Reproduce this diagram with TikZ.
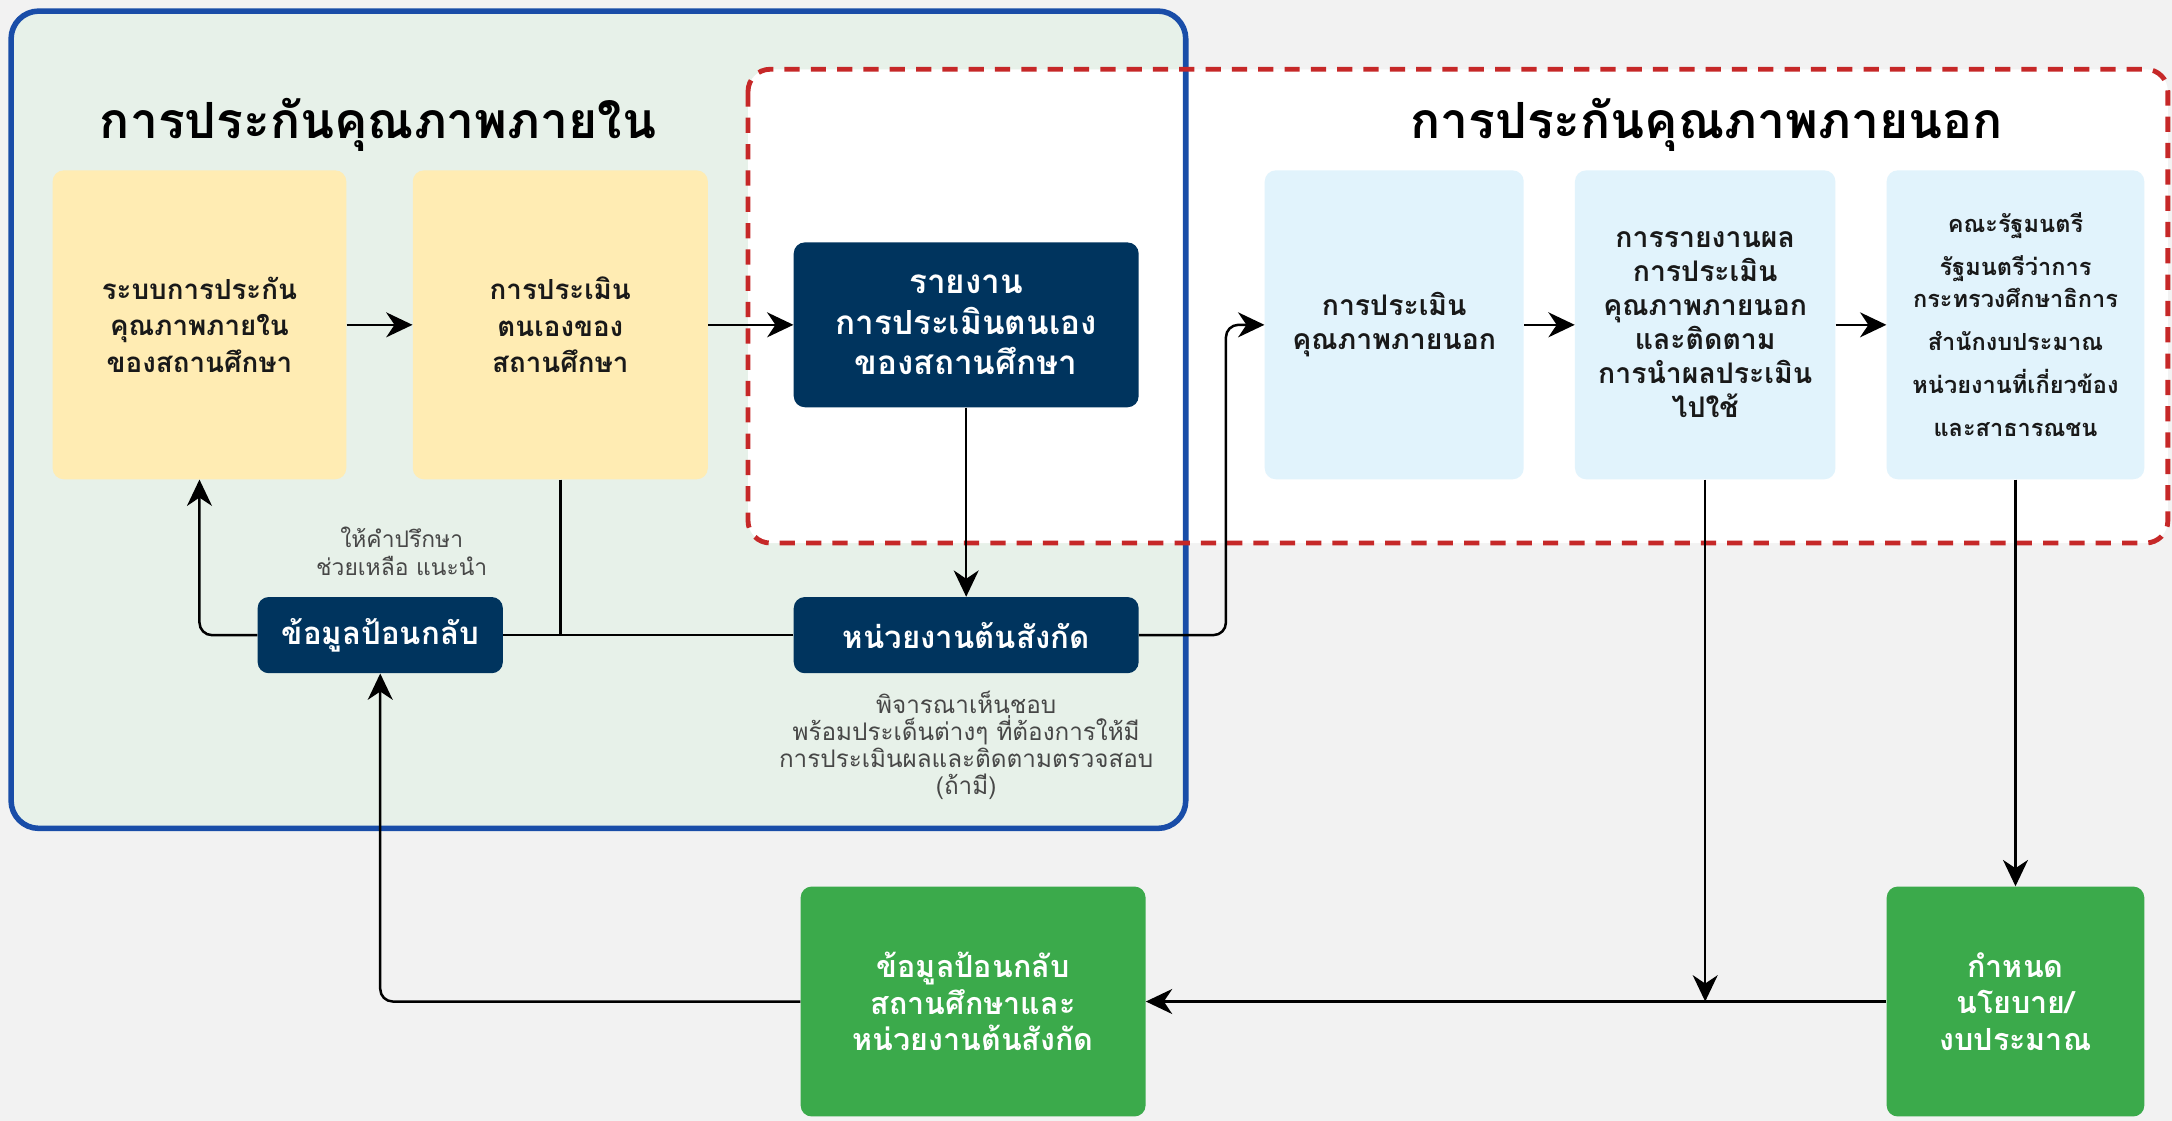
\documentclass[tikz,border=0pt]{standalone}
\usepackage{fontspec}
\setmainfont[Script=Thai]{Loma}
\usetikzlibrary{arrows.meta}
\definecolor{bgc}{RGB}{242,242,242}
\definecolor{greenfill}{RGB}{231,241,233}
\definecolor{bluebord}{RGB}{25,77,168}
\definecolor{redd}{RGB}{198,40,40}
\definecolor{yel}{RGB}{255,236,179}
\definecolor{navy}{RGB}{0,52,94}
\definecolor{lblue}{RGB}{225,243,252}
\definecolor{grn}{RGB}{59,170,75}
\definecolor{txt}{RGB}{25,25,25}
\tikzset{
  boxbase/.style={rounded corners=8pt, inner sep=0pt, align=center},
  ybox/.style={boxbase, fill=yel, text=txt, minimum height=223pt, font=\fontsize{20}{26.5}\selectfont\bfseries},
  lbbox/.style={boxbase, fill=lblue, text=txt, minimum height=223pt, font=\fontsize{20.5}{24.6}\selectfont\bfseries},
  nbox/.style={boxbase, fill=navy, text=white, font=\fontsize{22.5}{29}\selectfont\bfseries},
  gbox/.style={boxbase, fill=grn, text=white, minimum height=166pt, font=\fontsize{22}{26.5}\selectfont\bfseries},
  lbl/.style={align=center, text=txt!80, inner sep=0pt},
  title/.style={font=\fontsize{36}{40}\selectfont\bfseries, text=black, inner sep=0pt},
  conn/.style={line width=1.8pt, black},
  arr/.style={conn, -{Stealth[length=19pt,width=18pt,inset=6pt]}}
}
\begin{document}
\begin{tikzpicture}[x=1pt,y=-1pt]
\fill[bgc] (0,0) rectangle (1568,809);
\useasboundingbox (0,0) rectangle (1568,809);
% regions
\fill[greenfill, rounded corners=20pt] (8,8) rectangle (856,598);
\fill[white, rounded corners=16pt] (540,50) rectangle (1565,392);
\draw[bluebord, line width=4pt, rounded corners=20pt] (8,8) rectangle (856,598);
\draw[redd, line width=3.5pt, dash pattern=on 11pt off 8pt, rounded corners=16pt] (540,50) rectangle (1565,392);
% titles
\node[title] (t1) at (273,90) {การประกันคุณภาพภายใน};
\node[title] (t2) at (1232,90) {การประกันคุณภาพภายนอก};
% internal boxes
\node[ybox, minimum width=212pt] (box1) at (144,234.5) {ระบบการประกัน\\คุณภาพภายใน\\ของสถานศึกษา};
\node[ybox, minimum width=213pt] (box2) at (404.5,234.5) {การประเมิน\\ตนเองของ\\สถานศึกษา};
\node[nbox, minimum width=249pt, minimum height=119pt, font=\fontsize{24}{29.5}\selectfont\bfseries] (rep) at (697.5,234.5) {รายงาน\\การประเมินตนเอง\\ของสถานศึกษา};
\node[nbox, minimum width=177pt, minimum height=55pt] (fb) at (274.5,458.5) {ข้อมูลป้อนกลับ};
\node[nbox, minimum width=249pt, minimum height=55pt] (unit) at (697.5,458.5) {หน่วยงานต้นสังกัด};
% external boxes
\node[lbbox, minimum width=187pt] (lb1) at (1006.5,234.5) {การประเมิน\\คุณภาพภายนอก};
\node[lbbox, minimum width=188pt] (lb2) at (1231,234.5) {การรายงานผล\\การประเมิน\\คุณภาพภายนอก\\และติดตาม\\การนำผลประเมิน\\ไปใช้};
\node[lbbox, minimum width=186pt, font=\fontsize{17}{23}\selectfont\bfseries] (lb3) at (1455,234.5) {คณะรัฐมนตรี\\[8pt]รัฐมนตรีว่าการ\\กระทรวงศึกษาธิการ\\[8pt]สำนักงบประมาณ\\[8pt]หน่วยงานที่เกี่ยวข้อง\\[8pt]และสาธารณชน};
% green boxes
\node[gbox, minimum width=249pt] (g1) at (702.5,723) {ข้อมูลป้อนกลับ\\สถานศึกษาและ\\หน่วยงานต้นสังกัด};
\node[gbox, minimum width=186pt] (g2) at (1455,723) {กำหนด\\นโยบาย/\\งบประมาณ};
% labels
\node[lbl, font=\fontsize{16.5}{20}\selectfont] (l1) at (290,398) {ให้คำปรึกษา\\ช่วยเหลือ แนะนำ};
\node[lbl, font=\fontsize{17.5}{19.5}\selectfont] (l2) at (697.5,538) {พิจารณาเห็นชอบ\\พร้อมประเด็นต่างๆ ที่ต้องการให้มี\\การประเมินผลและติดตามตรวจสอบ\\(ถ้ามี)};
% connectors
\coordinate (jn) at (box2.south |- fb.east);
\coordinate (up) at (885,458.5);
\coordinate (lbj) at (lb2.south |- g2.west);
\draw[arr] (box1.east) -- (box2.west);
\draw[arr] (box2.east) -- (rep.west);
\draw[arr] (rep.south) -- (unit.north);
\draw[arr, rounded corners=9pt] (unit.east) -- (up) |- (lb1.west);
\draw[conn] (unit.west) -- (fb.east);
\draw[conn] (box2.south) -- (jn);
\draw[arr, rounded corners=9pt] (fb.west) -| (box1.south);
\draw[arr] (lb1.east) -- (lb2.west);
\draw[arr] (lb2.east) -- (lb3.west);
\draw[arr] (lb2.south) -- (lbj);
\draw[arr] (lb3.south) -- (g2.north);
\draw[arr] (g2.west) -- (g1.east);
\draw[arr, rounded corners=9pt] (g1.west) -| (fb.south);
\end{tikzpicture}
\end{document}
